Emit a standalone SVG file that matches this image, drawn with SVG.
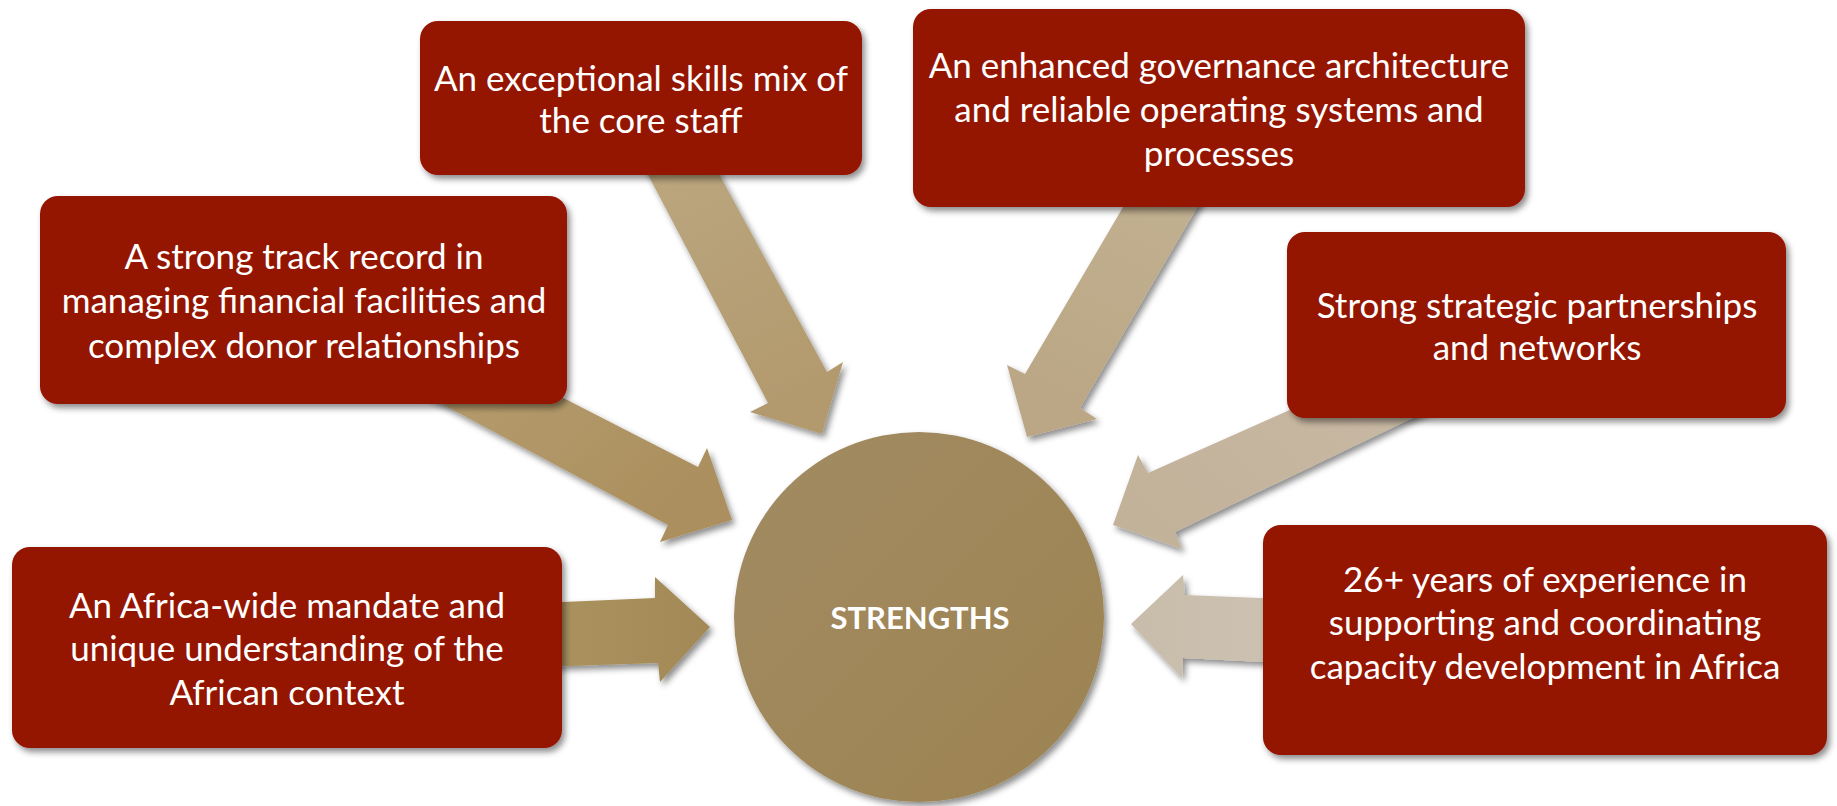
<svg xmlns="http://www.w3.org/2000/svg" width="1837" height="806" viewBox="0 0 1837 806">
  <defs>
    <filter id="shadow" x="-10%" y="-10%" width="125%" height="130%">
      <feDropShadow dx="3" dy="4" stdDeviation="3" flood-color="#000" flood-opacity="0.45"/>
    </filter>
    <linearGradient id="gA" x1="0" y1="0" x2="0.4" y2="1">
      <stop offset="0" stop-color="#bba780"/>
      <stop offset="1" stop-color="#b39a6e"/>
    </linearGradient>
    <linearGradient id="gB" x1="1" y1="0" x2="0.6" y2="1">
      <stop offset="0" stop-color="#c2b192"/>
      <stop offset="1" stop-color="#bba785"/>
    </linearGradient>
    <linearGradient id="gC" x1="0" y1="0" x2="1" y2="0.6">
      <stop offset="0" stop-color="#b8a072"/>
      <stop offset="1" stop-color="#ab8f5e"/>
    </linearGradient>
    <linearGradient id="gD" x1="1" y1="0" x2="0" y2="0.6">
      <stop offset="0" stop-color="#c9baa6"/>
      <stop offset="1" stop-color="#c3b29a"/>
    </linearGradient>
    <linearGradient id="gE" x1="0" y1="0" x2="1" y2="0">
      <stop offset="0" stop-color="#ab935f"/>
      <stop offset="1" stop-color="#a28957"/>
    </linearGradient>
    <linearGradient id="gF" x1="1" y1="0" x2="0" y2="0">
      <stop offset="0" stop-color="#cdc2b2"/>
      <stop offset="1" stop-color="#c8bcaa"/>
    </linearGradient>
    <linearGradient id="gHub" x1="0" y1="0" x2="1" y2="1">
      <stop offset="0" stop-color="#a28b62"/>
      <stop offset="1" stop-color="#9d8352"/>
    </linearGradient>
  </defs>
  <style>
    .box { fill: #951300; filter: url(#shadow); }
    .arrow { filter: url(#shadow); }
    .label { font-family: Lato, "Liberation Sans", sans-serif; font-size: 35px; fill: #ffffff; text-anchor: middle; }
    .hub-label { font-family: Lato, "Liberation Sans", sans-serif; font-size: 31px; font-weight: bold; fill: #ffffff; text-anchor: middle; }
  </style>
  <rect width="1837" height="806" fill="#ffffff"/>

  <!-- connectors: block arrows pointing into the hub -->
  <g id="connectors">
    <polygon class="arrow" fill="url(#gA)" points="635,150 706,150 827,372 843,362 822,434 750,412 768,403"/>
    <polygon class="arrow" fill="url(#gB)" points="1139,180 1213,180 1080,408 1097,419 1027,437 1007,365 1025,374"/>
    <polygon class="arrow" fill="url(#gC)" points="460,345 698,467 707,448 732,520 660,542 668,525 380,371"/>
    <polygon class="arrow" fill="url(#gD)" points="1400,361 1148,473 1138,455 1113,525 1182,549 1175,532 1450,400"/>
    <polygon class="arrow" fill="url(#gE)" points="540,603 655,598 655,577 710,627 660,682 658,663 540,667"/>
    <polygon class="arrow" fill="url(#gF)" points="1285,599 1185,595 1183,575 1131,624 1182,678 1183,658 1285,663"/>
  </g>

  <!-- hub -->
  <g id="hub">
    <circle cx="919" cy="617" r="185" fill="url(#gHub)" filter="url(#shadow)"/>
    <text class="hub-label" x="920" y="629">STRENGTHS</text>
  </g>

  <g id="skills">
    <rect class="box" x="420" y="21" width="442" height="154" rx="18"/>
    <text class="label" x="641" y="91">An exceptional skills mix of</text>
    <text class="label" x="641" y="133">the core staff</text>
  </g>

  <g id="governance">
    <rect class="box" x="913" y="9" width="612" height="198" rx="18"/>
    <text class="label" x="1219" y="78">An enhanced governance architecture</text>
    <text class="label" x="1219" y="122">and reliable operating systems and</text>
    <text class="label" x="1219" y="166">processes</text>
  </g>

  <g id="track-record">
    <rect class="box" x="40" y="196" width="527" height="208" rx="18"/>
    <text class="label" x="304" y="269">A strong track record in</text>
    <text class="label" x="304" y="313">managing financial facilities and</text>
    <text class="label" x="304" y="358">complex donor relationships</text>
  </g>

  <g id="partnerships">
    <rect class="box" x="1287" y="232" width="499" height="186" rx="18"/>
    <text class="label" x="1537" y="318">Strong strategic partnerships</text>
    <text class="label" x="1537" y="360">and networks</text>
  </g>

  <g id="mandate">
    <rect class="box" x="12" y="547" width="550" height="201" rx="18"/>
    <text class="label" x="287" y="618">An Africa-wide mandate and</text>
    <text class="label" x="287" y="661">unique understanding of the</text>
    <text class="label" x="287" y="705">African context</text>
  </g>

  <g id="experience">
    <rect class="box" x="1263" y="525" width="564" height="230" rx="18"/>
    <text class="label" x="1545" y="592">26+ years of experience in</text>
    <text class="label" x="1545" y="635">supporting and coordinating</text>
    <text class="label" x="1545" y="679">capacity development in Africa</text>
  </g>
</svg>
